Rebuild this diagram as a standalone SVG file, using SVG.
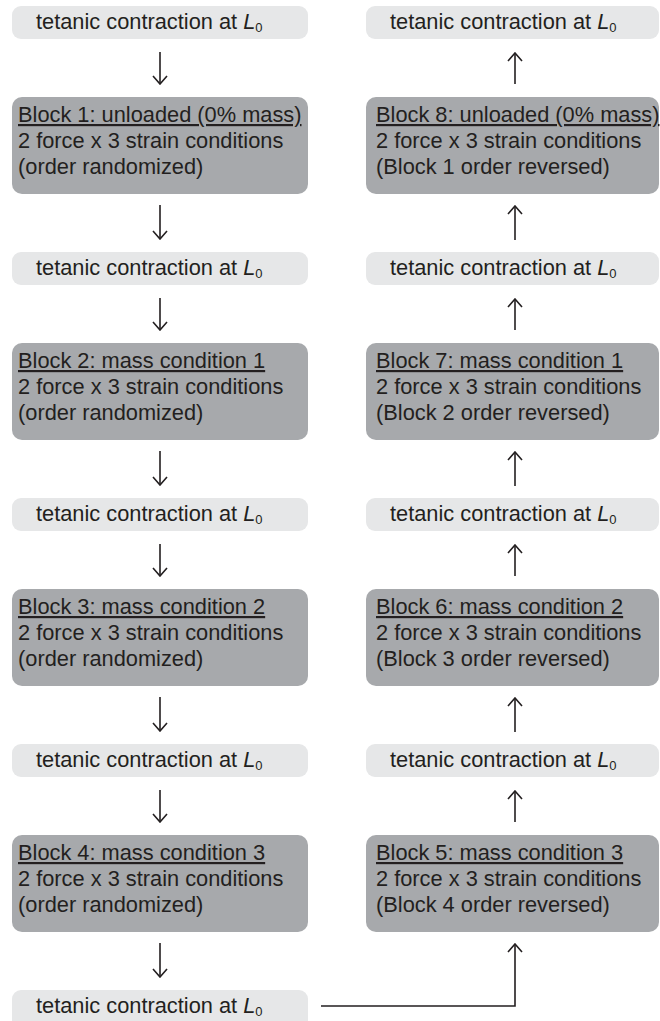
<svg xmlns="http://www.w3.org/2000/svg" width="660" height="1021" viewBox="0 0 660 1021">
<style>
text{font-family:"Liberation Sans",Arial,sans-serif;font-size:21.8px;fill:#231f20}
.lt{fill:#e6e7e8}
.dk{fill:#a7a9ac}
.u{text-decoration:underline}
.ar{stroke:#231f20;stroke-width:1.6;fill:none}
.sub{font-size:13px}
</style>
<defs>
<marker id="ah" viewBox="0 0 10 16" refX="9" refY="8" markerWidth="10" markerHeight="16" markerUnits="userSpaceOnUse" orient="auto">
<path d="M1,1 L9,8 L1,15" fill="none" stroke="#231f20" stroke-width="1.6"/>
</marker>
</defs>
<rect width="660" height="1021" fill="#fff"/>
<g id="L1"><rect class="lt" x="12" y="6" width="296" height="33" rx="9"/><text x="36" y="29">tetanic contraction at <tspan font-style="italic">L</tspan><tspan class="sub" dy="3">0</tspan></text></g>
<g id="B1"><rect class="dk" x="12" y="97" width="296" height="97" rx="10"/><text x="18" y="122"><tspan class="u">Block 1: unloaded (0% mass)</tspan><tspan x="18" y="148">2 force x 3 strain conditions</tspan><tspan x="18" y="174">(order randomized)</tspan></text></g>
<g id="L2"><rect class="lt" x="12" y="252" width="296" height="33" rx="9"/><text x="36" y="275">tetanic contraction at <tspan font-style="italic">L</tspan><tspan class="sub" dy="3">0</tspan></text></g>
<g id="B2"><rect class="dk" x="12" y="343" width="296" height="97" rx="10"/><text x="18" y="368"><tspan class="u">Block 2: mass condition 1</tspan><tspan x="18" y="394">2 force x 3 strain conditions</tspan><tspan x="18" y="420">(order randomized)</tspan></text></g>
<g id="L3"><rect class="lt" x="12" y="498" width="296" height="33" rx="9"/><text x="36" y="521">tetanic contraction at <tspan font-style="italic">L</tspan><tspan class="sub" dy="3">0</tspan></text></g>
<g id="B3"><rect class="dk" x="12" y="589" width="296" height="97" rx="10"/><text x="18" y="614"><tspan class="u">Block 3: mass condition 2</tspan><tspan x="18" y="640">2 force x 3 strain conditions</tspan><tspan x="18" y="666">(order randomized)</tspan></text></g>
<g id="L4"><rect class="lt" x="12" y="744" width="296" height="33" rx="9"/><text x="36" y="767">tetanic contraction at <tspan font-style="italic">L</tspan><tspan class="sub" dy="3">0</tspan></text></g>
<g id="B4"><rect class="dk" x="12" y="835" width="296" height="97" rx="10"/><text x="18" y="860"><tspan class="u">Block 4: mass condition 3</tspan><tspan x="18" y="886">2 force x 3 strain conditions</tspan><tspan x="18" y="912">(order randomized)</tspan></text></g>
<g id="L5"><rect class="lt" x="12" y="990" width="296" height="40" rx="9"/><text x="36" y="1013">tetanic contraction at <tspan font-style="italic">L</tspan><tspan class="sub" dy="3">0</tspan></text></g>

<g id="R1"><rect class="lt" x="366" y="6" width="293" height="33" rx="9"/><text x="390" y="29">tetanic contraction at <tspan font-style="italic">L</tspan><tspan class="sub" dy="3">0</tspan></text></g>
<g id="B8"><rect class="dk" x="366" y="97" width="293" height="97" rx="10"/><text x="376" y="122"><tspan class="u">Block 8: unloaded (0% mass)</tspan><tspan x="376" y="148">2 force x 3 strain conditions</tspan><tspan x="376" y="174">(Block 1 order reversed)</tspan></text></g>
<g id="R2"><rect class="lt" x="366" y="252" width="293" height="33" rx="9"/><text x="390" y="275">tetanic contraction at <tspan font-style="italic">L</tspan><tspan class="sub" dy="3">0</tspan></text></g>
<g id="B7"><rect class="dk" x="366" y="343" width="293" height="97" rx="10"/><text x="376" y="368"><tspan class="u">Block 7: mass condition 1</tspan><tspan x="376" y="394">2 force x 3 strain conditions</tspan><tspan x="376" y="420">(Block 2 order reversed)</tspan></text></g>
<g id="R3"><rect class="lt" x="366" y="498" width="293" height="33" rx="9"/><text x="390" y="521">tetanic contraction at <tspan font-style="italic">L</tspan><tspan class="sub" dy="3">0</tspan></text></g>
<g id="B6"><rect class="dk" x="366" y="589" width="293" height="97" rx="10"/><text x="376" y="614"><tspan class="u">Block 6: mass condition 2</tspan><tspan x="376" y="640">2 force x 3 strain conditions</tspan><tspan x="376" y="666">(Block 3 order reversed)</tspan></text></g>
<g id="R4"><rect class="lt" x="366" y="744" width="293" height="33" rx="9"/><text x="390" y="767">tetanic contraction at <tspan font-style="italic">L</tspan><tspan class="sub" dy="3">0</tspan></text></g>
<g id="B5"><rect class="dk" x="366" y="835" width="293" height="97" rx="10"/><text x="376" y="860"><tspan class="u">Block 5: mass condition 3</tspan><tspan x="376" y="886">2 force x 3 strain conditions</tspan><tspan x="376" y="912">(Block 4 order reversed)</tspan></text></g>

<g id="connectors" class="ar">
<line x1="160" y1="52" x2="160" y2="84" marker-end="url(#ah)"/>
<line x1="160" y1="205" x2="160" y2="239" marker-end="url(#ah)"/>
<line x1="160" y1="298" x2="160" y2="330" marker-end="url(#ah)"/>
<line x1="160" y1="451" x2="160" y2="485" marker-end="url(#ah)"/>
<line x1="160" y1="544" x2="160" y2="576" marker-end="url(#ah)"/>
<line x1="160" y1="697" x2="160" y2="731" marker-end="url(#ah)"/>
<line x1="160" y1="790" x2="160" y2="822" marker-end="url(#ah)"/>
<line x1="160" y1="943" x2="160" y2="977" marker-end="url(#ah)"/>
<line x1="515" y1="84" x2="515" y2="53" marker-end="url(#ah)"/>
<line x1="515" y1="240" x2="515" y2="206" marker-end="url(#ah)"/>
<line x1="515" y1="330" x2="515" y2="299" marker-end="url(#ah)"/>
<line x1="515" y1="486" x2="515" y2="452" marker-end="url(#ah)"/>
<line x1="515" y1="576" x2="515" y2="545" marker-end="url(#ah)"/>
<line x1="515" y1="732" x2="515" y2="698" marker-end="url(#ah)"/>
<line x1="515" y1="822" x2="515" y2="791" marker-end="url(#ah)"/>
<polyline points="321,1006 515,1006 515,944" marker-end="url(#ah)"/>
</g>
</svg>
